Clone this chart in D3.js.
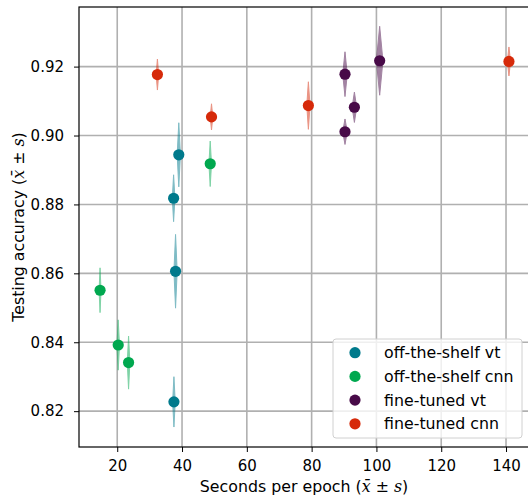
<!DOCTYPE html>
<html>
<head>
<meta charset="utf-8">
<script src="https://cdn.jsdelivr.net/npm/d3@7"></script>
<style>
  body { margin: 0; background: #fff; }
  svg { font-family: "DejaVu Sans", sans-serif; }
</style>
</head>
<body>
<svg id="svg" width="528" height="499"></svg>
<script>
// series: seconds per epoch (mean, sd) and testing accuracy (mean, sd)
var seriesNames = ['off-the-shelf vt', 'off-the-shelf cnn', 'fine-tuned vt', 'fine-tuned cnn'];
var seriesColors = ['#007a8c', '#00a84f', '#480a48', '#d62a0a'];

var vtOffX = [39.0, 37.4, 38.0, 37.5];
var vtOffXs = [0.5, 0.4, 0.5, 0.4];
var vtOffY = [0.8944, 0.8818, 0.8606, 0.8227];
var vtOffYs = [0.0093, 0.0068, 0.0107, 0.0073];

var cnnOffX = [48.7, 14.7, 20.3, 23.5];
var cnnOffXs = [0.4, 0.3, 0.4, 0.4];
var cnnOffY = [0.8918, 0.8551, 0.8392, 0.8341];
var cnnOffYs = [0.0066, 0.0065, 0.0073, 0.0077];

var vtFtX = [90.3, 93.2, 90.3, 101.0];
var vtFtXs = [0.7, 0.7, 0.7, 1.0];
var vtFtY = [0.9178, 0.9082, 0.9011, 0.9217];
var vtFtYs = [0.0065, 0.0044, 0.0037, 0.0100];

var cnnFtX = [32.4, 49.1, 79.0, 140.9];
var cnnFtXs = [0.4, 0.4, 0.5, 0.5];
var cnnFtY = [0.9177, 0.9054, 0.9087, 0.9215];
var cnnFtYs = [0.0045, 0.0038, 0.0069, 0.0042];

var xTicks = [20, 40, 60, 80, 100, 120, 140];
var yTicks = [0.82, 0.84, 0.86, 0.88, 0.90, 0.92];

function pts(xs, xe, ys, ye) {
    return xs.map((v, i) => ({x: v, sx: xe[i], y: ys[i], sy: ye[i]}));
}
var groups = [
    pts(vtOffX, vtOffXs, vtOffY, vtOffYs),
    pts(cnnOffX, cnnOffXs, cnnOffY, cnnOffYs),
    pts(vtFtX, vtFtXs, vtFtY, vtFtYs),
    pts(cnnFtX, cnnFtXs, cnnFtY, cnnFtYs)
];

var pLeft = 79, pRight = 530, pTop = 7, pBottom = 447;
var scX = d3.scaleLinear().domain([8.2, 147.4]).range([pLeft, pRight]);
var scY = d3.scaleLinear().domain([0.8096, 0.9373]).range([pBottom, pTop]);

var svg = d3.select('#svg');

// grid
svg.append('g').selectAll('line').data(xTicks).enter().append('line')
    .attr('x1', d => scX(d)).attr('x2', d => scX(d))
    .attr('y1', pTop).attr('y2', pBottom)
    .attr('stroke', '#b0b0b0').attr('stroke-width', 1.6);
svg.append('g').selectAll('line').data(yTicks).enter().append('line')
    .attr('x1', pLeft).attr('x2', pRight)
    .attr('y1', d => scY(d)).attr('y2', d => scY(d))
    .attr('stroke', '#b0b0b0').attr('stroke-width', 1.6);

// error diamonds then markers
groups.forEach(function(g, k) {
    svg.append('g').selectAll('path').data(g).enter().append('path')
        .attr('d', d => 'M' + scX(d.x - d.sx) + ',' + scY(d.y) +
            'L' + scX(d.x) + ',' + scY(d.y + d.sy) +
            'L' + scX(d.x + d.sx) + ',' + scY(d.y) +
            'L' + scX(d.x) + ',' + scY(d.y - d.sy) + 'Z')
        .attr('fill', seriesColors[k])
        .attr('stroke', seriesColors[k])
        .attr('stroke-width', 1)
        .attr('opacity', 0.5);
});
groups.forEach(function(g, k) {
    svg.append('g').selectAll('circle').data(g).enter().append('circle')
        .attr('cx', d => scX(d.x)).attr('cy', d => scY(d.y))
        .attr('r', 5.6)
        .attr('fill', seriesColors[k]);
});

// axes
var xAxis = d3.axisBottom(scX).tickValues(xTicks).tickSize(5).tickPadding(8).tickFormat(d3.format('d'));
var yAxis = d3.axisLeft(scY).tickValues(yTicks).tickSize(5).tickPadding(10).tickFormat(d3.format('.2f'));
var gx = svg.append('g').attr('transform', 'translate(0,' + pBottom + ')').call(xAxis);
var gy = svg.append('g').attr('transform', 'translate(' + pLeft + ',0)').call(yAxis);
[gx, gy].forEach(function(g) {
    g.select('.domain').remove();
    g.selectAll('text').attr('font-size', 15).attr('fill', '#000')
        .attr('font-family', '"DejaVu Sans", sans-serif');
    g.selectAll('line').attr('stroke', '#000').attr('stroke-width', 1);
});

// frame
svg.append('rect').attr('x', pLeft).attr('y', pTop)
    .attr('width', pRight - pLeft).attr('height', pBottom - pTop)
    .attr('fill', 'none').attr('stroke', '#000').attr('stroke-width', 1.2);

// axis labels with italic mean / sd symbols
function label(t, parts) {
    parts.forEach(function(p) {
        var s = t.append('tspan').text(p[0]);
        if (p[1]) s.attr('font-style', 'italic').attr('font-family', '"DejaVu Serif", serif');
    });
}
var xl = svg.append('text').attr('x', 304).attr('y', 492)
    .attr('text-anchor', 'middle').attr('font-size', 15.8);
label(xl, [['Seconds per epoch ('], ['x\u0304', true], [' \u00b1 '], ['s', true], [')']]);
var yl = svg.append('text').attr('transform', 'translate(24,' + ((pTop + pBottom) / 2) + ') rotate(-90)')
    .attr('text-anchor', 'middle').attr('font-size', 15.8);
label(yl, [['Testing accuracy ('], ['x\u0304', true], [' \u00b1 '], ['s', true], [')']]);

// legend
var lg = svg.append('g').attr('transform', 'translate(333,339)');
lg.append('rect').attr('width', 189).attr('height', 99).attr('rx', 3)
    .attr('fill', '#fff').attr('fill-opacity', 0.8)
    .attr('stroke', '#d0d0d0').attr('stroke-width', 1);
var rows = lg.selectAll('g.row').data(seriesNames).enter().append('g')
    .attr('transform', (d, i) => 'translate(0,' + (13.7 + i * 23.7) + ')');
rows.append('circle').attr('cx', 22).attr('cy', 0).attr('r', 5.6)
    .attr('fill', (d, i) => seriesColors[i]);
rows.append('text').attr('x', 51).attr('y', 5.5).attr('font-size', 15.8).text(d => d);
</script>
</body>
</html>
